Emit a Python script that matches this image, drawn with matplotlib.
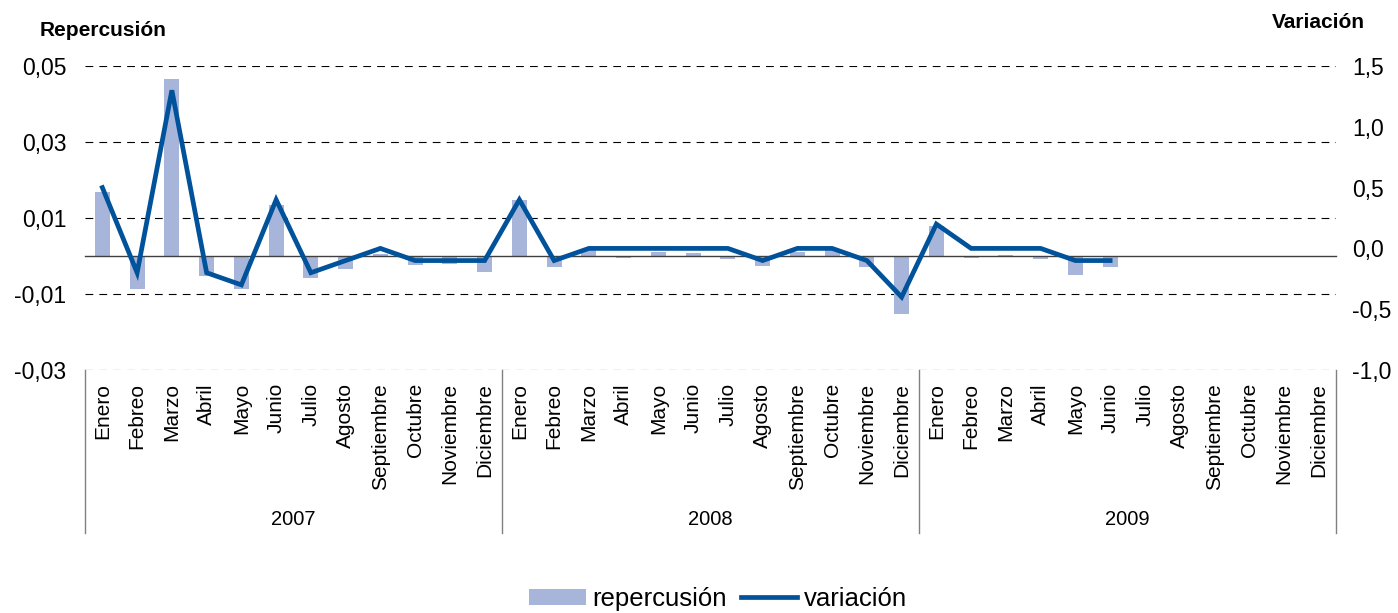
import numpy as np
import matplotlib
matplotlib.use('Agg')
import matplotlib.pyplot as plt
from matplotlib.patches import Patch
from matplotlib.lines import Line2D

plt.rcParams['font.family'] = ['Liberation Sans', 'DejaVu Sans']

meses = ['Enero', 'Febreo', 'Marzo', 'Abril', 'Mayo', 'Junio', 'Julio', 'Agosto',
         'Septiembre', 'Octubre', 'Noviembre', 'Diciembre']
anios = ['2007', '2008', '2009']

nan = np.nan
repercusion = [0.0168, -0.0086, 0.0466, -0.0052, -0.0088, 0.0134, -0.0057, -0.0033, 0.0004, -0.0023, -0.0020, -0.0041,
               0.0147, -0.0028, 0.0015, -0.0005, 0.0010, 0.0008, -0.0008, -0.0025, 0.0010, 0.0015, -0.0028, -0.0153,
               0.0079, -0.0005, 0.0002, -0.0008, -0.0050, -0.0028, nan, nan, nan, nan, nan, nan]
variacion = [0.5, -0.2, 1.3, -0.2, -0.3, 0.4, -0.2, -0.1, 0.0, -0.1, -0.1, -0.1,
             0.4, -0.1, 0.0, 0.0, 0.0, 0.0, 0.0, -0.1, 0.0, 0.0, -0.1, -0.4,
             0.2, 0.0, 0.0, 0.0, -0.1, -0.1, nan, nan, nan, nan, nan, nan]

left_ticks = [-0.03, -0.01, 0.01, 0.03, 0.05]
right_ticks = [-1.0, -0.5, 0.0, 0.5, 1.0, 1.5]

bar_color = '#A8B5DA'
line_color = '#00529B'

fig = plt.figure(figsize=(13.98, 6.13), dpi=100)
ax = fig.add_axes([85 / 1398, 1 - 370 / 613, (1336 - 85) / 1398, 304 / 613])
ax2 = ax.twinx()

x = np.arange(len(repercusion))
ax.bar(x, repercusion, width=0.43, color=bar_color, zorder=2)
ax2.plot(x, variacion, color=line_color, lw=3.4, solid_joinstyle='miter', zorder=3)

ax.set_xlim(-0.5, len(x) - 0.5)
ax.set_ylim(-0.03, 0.05)
ax2.set_ylim(-1.0, 1.5)

ax.set_yticks(left_ticks)
ax.set_yticklabels([f'{v:.2f}'.replace('.', ',') for v in left_ticks])
ax2.set_yticks(right_ticks)
ax2.set_yticklabels([f'{v:.1f}'.replace('.', ',').replace('-0,0', '0,0') for v in right_ticks])
ax.tick_params(axis='y', length=0, pad=13.5, labelsize=16.5)
ax2.tick_params(axis='y', length=0, pad=11.5, labelsize=16.5)
ax.yaxis.grid(True, color='black', lw=0.8, linestyle=(0, (7, 5.5)), zorder=0)
ax.set_axisbelow(True)

for s in ['left', 'right', 'top']:
    ax.spines[s].set_visible(False)
    ax2.spines[s].set_visible(False)
ax2.spines['bottom'].set_visible(False)

# category axis sits on the zero line
ax.spines['bottom'].set_position(('data', 0))
ax.spines['bottom'].set_color('#404040')
ax.spines['bottom'].set_linewidth(1.0)
ax.set_xticks(np.arange(-0.5, len(x), 0.5))
ax.set_xticklabels([])
ax.tick_params(axis='x', direction='out', length=3.5, width=0.8, color='#606060')
ax2.set_xticks([])

# month and year labels under the plot
for i in x:
    ax.text(i, -0.043, meses[i % 12], transform=ax.get_xaxis_transform(),
            rotation=90, ha='center', va='top', fontsize=15)
for k, a in enumerate(anios):
    ax.text(k * 12 + 5.5, -0.493, a, transform=ax.get_xaxis_transform(),
            ha='center', va='center', fontsize=14.5)
for b in [-0.5, 11.5, 23.5, 35.5]:
    ax.axvline(b, ymin=-0.536, ymax=0, color='#808080', lw=1, clip_on=False)

fig.text(40 / 1398, 1 - 30 / 613, 'Repercusión', fontsize=15, fontweight='bold', ha='left', va='center')
fig.text(1365 / 1398, 1 - 22 / 613, 'Variación', fontsize=15, fontweight='bold', ha='right', va='center')

handles = [Patch(facecolor=bar_color, edgecolor='none'),
           Line2D([0], [0], color=line_color, lw=3.4)]
fig.legend(handles, ['repercusión', 'variación'], loc='center', ncol=2, frameon=False,
           bbox_to_anchor=(718 / 1398, 1 - 599 / 613), fontsize=18.5,
           handlelength=2.2, handletextpad=0.25, columnspacing=0.55, handleheight=0.6)

fig.savefig('out.png', dpi=100)
